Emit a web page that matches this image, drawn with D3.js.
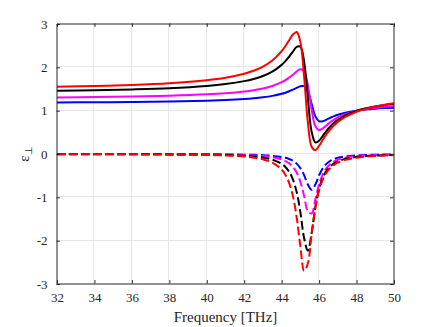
<!DOCTYPE html>
<html>
<head>
<meta charset="utf-8">
<script src="https://cdn.jsdelivr.net/npm/d3@7"></script>
<style>
  body { margin: 0; background: #fff; }
  text { font-family: "Liberation Serif", "Times New Roman", serif; fill: #262626; }
</style>
</head>
<body>
<div id="chart"></div>
<script>
// frequency samples [THz]
var freq = [32, 34, 36, 38, 40, 41, 42, 42.5, 43, 43.5, 44, 44.2, 44.4, 44.6, 44.8,
  45, 45.2, 45.4, 45.6, 45.8, 46, 46.2, 46.4, 46.6, 46.8, 47, 47.4, 48, 48.5, 49, 49.5, 50];

// real parts (solid)
var redRe = [1.551, 1.569, 1.594, 1.634, 1.703, 1.760, 1.852, 1.921, 2.016, 2.157, 2.374, 2.492, 2.626, 2.759, 2.815,
  2.582, 1.780, 0.728, 0.169, 0.089, 0.191, 0.329, 0.458, 0.568, 0.660, 0.737, 0.855, 0.976, 1.046, 1.098, 1.138, 1.170];
var blackRe = [1.458, 1.471, 1.491, 1.520, 1.572, 1.615, 1.682, 1.732, 1.801, 1.901, 2.057, 2.143, 2.246, 2.364, 2.472,
  2.476, 2.133, 1.284, 0.515, 0.267, 0.306, 0.420, 0.536, 0.636, 0.719, 0.787, 0.891, 0.995, 1.054, 1.097, 1.131, 1.157];
var magRe = [1.305, 1.313, 1.325, 1.344, 1.376, 1.402, 1.442, 1.472, 1.512, 1.569, 1.657, 1.704, 1.762, 1.830, 1.903,
  1.957, 1.909, 1.590, 1.024, 0.638, 0.550, 0.593, 0.665, 0.735, 0.795, 0.845, 0.920, 0.994, 1.036, 1.066, 1.089, 1.107];
var blueRe = [1.189, 1.194, 1.202, 1.212, 1.231, 1.246, 1.269, 1.286, 1.309, 1.341, 1.389, 1.415, 1.447, 1.484, 1.526,
  1.563, 1.565, 1.451, 1.160, 0.869, 0.755, 0.757, 0.794, 0.836, 0.873, 0.905, 0.953, 1.000, 1.026, 1.045, 1.059, 1.070];

// imaginary parts (dashed)
var redIm = [-0.004, -0.005, -0.008, -0.012, -0.024, -0.036, -0.060, -0.084, -0.123, -0.197, -0.359, -0.482, -0.670, -0.972, -1.454,
  -2.134, -2.694, -2.528, -1.846, -1.235, -0.834, -0.584, -0.426, -0.323, -0.251, -0.201, -0.136, -0.085, -0.061, -0.046, -0.036, -0.029];
var blackIm = [-0.003, -0.004, -0.006, -0.009, -0.017, -0.025, -0.042, -0.057, -0.082, -0.129, -0.228, -0.301, -0.411, -0.587, -0.875,
  -1.341, -1.945, -2.233, -1.828, -1.232, -0.805, -0.544, -0.385, -0.284, -0.217, -0.170, -0.113, -0.068, -0.049, -0.036, -0.028, -0.022];
var magIm = [-0.002, -0.002, -0.004, -0.006, -0.010, -0.015, -0.025, -0.034, -0.048, -0.074, -0.126, -0.162, -0.215, -0.297, -0.428,
  -0.642, -0.970, -1.326, -1.372, -1.047, -0.698, -0.463, -0.318, -0.229, -0.171, -0.132, -0.085, -0.050, -0.035, -0.026, -0.020, -0.016];
var blueIm = [-0.001, -0.001, -0.002, -0.003, -0.006, -0.009, -0.015, -0.020, -0.028, -0.042, -0.069, -0.088, -0.116, -0.157, -0.222,
  -0.326, -0.491, -0.706, -0.825, -0.706, -0.491, -0.326, -0.222, -0.157, -0.116, -0.088, -0.056, -0.032, -0.022, -0.016, -0.013, -0.010];

var xTicks = [32, 34, 36, 38, 40, 42, 44, 46, 48, 50];
var yTicks = [-3, -2, -1, 0, 1, 2, 3];

var svgWidth = 436;
var svgHeight = 327;
var margin = {top: 24, right: 42, bottom: 43, left: 57};
var width = svgWidth - margin.left - margin.right;
var height = svgHeight - margin.top - margin.bottom;

var svg = d3.select("#chart")
  .append("svg")
  .attr("width", svgWidth)
  .attr("height", svgHeight);

var chartGroup = svg.append("g")
  .attr("transform", `translate(${margin.left}, ${margin.top})`);

var xScale = d3.scaleLinear().domain([32, 50]).range([0, width]);
var yScale = d3.scaleLinear().domain([-3, 3]).range([height, 0]);

// grid
chartGroup.append("g")
  .selectAll("line")
  .data(xTicks.slice(1, -1))
  .enter()
  .append("line")
  .attr("x1", d => Math.round(xScale(d)) - 0.5)
  .attr("x2", d => Math.round(xScale(d)) - 0.5)
  .attr("y1", 0)
  .attr("y2", height)
  .attr("stroke", "#e6e6e6");

chartGroup.append("g")
  .selectAll("line")
  .data(yTicks.slice(1, -1))
  .enter()
  .append("line")
  .attr("y1", d => Math.round(yScale(d)) - 0.5)
  .attr("y2", d => Math.round(yScale(d)) - 0.5)
  .attr("x1", 0)
  .attr("x2", width)
  .attr("stroke", "#e6e6e6");

// curves
chartGroup.append("clipPath")
  .attr("id", "clip")
  .append("rect")
  .attr("width", width)
  .attr("height", height);

var line = d3.line()
  .x((d, i) => xScale(freq[i]))
  .y(d => yScale(d))
  .curve(d3.curveCatmullRom.alpha(0.5));

var series = [
  {vals: blueRe, color: "#0000ff", dash: null},
  {vals: magRe, color: "#ff00ff", dash: null},
  {vals: blackRe, color: "#000000", dash: null},
  {vals: redRe, color: "#ff0000", dash: null},
  {vals: blueIm, color: "#0000ff", dash: "8.5,3.5"},
  {vals: magIm, color: "#ff00ff", dash: "8.5,3.5"},
  {vals: blackIm, color: "#000000", dash: "8.5,3.5"},
  {vals: redIm, color: "#ff0000", dash: "8.5,3.5"}
];

chartGroup.append("g")
  .attr("clip-path", "url(#clip)")
  .selectAll("path")
  .data(series)
  .enter()
  .append("path")
  .attr("d", d => line(d.vals))
  .attr("fill", "none")
  .attr("stroke", d => d.color)
  .attr("stroke-width", 2)
  .attr("stroke-dasharray", d => d.dash);

// axes, ticks inside on all four sides
var fmt = d => String(d);
var bottomAxis = d3.axisBottom(xScale).tickValues(xTicks).tickSize(-3.4).tickPadding(9).tickSizeOuter(0).tickFormat(fmt);
var topAxis = d3.axisTop(xScale).tickValues(xTicks).tickSize(-3.4).tickFormat("").tickSizeOuter(0);
var leftAxis = d3.axisLeft(yScale).tickValues(yTicks).tickSize(-3.4).tickPadding(9).tickSizeOuter(0).tickFormat(fmt);
var rightAxis = d3.axisRight(yScale).tickValues(yTicks).tickSize(-3.4).tickFormat("").tickSizeOuter(0);

var axes = [
  chartGroup.append("g").attr("transform", `translate(0, ${height - 0.5})`).call(bottomAxis),
  chartGroup.append("g").attr("transform", "translate(0, -0.5)").call(topAxis),
  chartGroup.append("g").attr("transform", "translate(-0.5, 0)").call(leftAxis),
  chartGroup.append("g").attr("transform", `translate(${width - 0.5}, 0)`).call(rightAxis)
];

axes.forEach(function(a) {
  a.attr("font-family", "Liberation Serif").attr("font-size", 13);
  a.select(".domain").attr("stroke", "#262626");
  a.selectAll(".tick line").attr("stroke", "#262626");
  a.selectAll("text").attr("fill", "#262626");
});

// axis labels
chartGroup.append("text")
  .attr("x", width / 2)
  .attr("y", height + 38)
  .attr("text-anchor", "middle")
  .style("font-size", "15px")
  .text("Frequency [THz]");

var yLabel = chartGroup.append("text")
  .attr("transform", `translate(${-28}, ${height / 2}) rotate(-90)`)
  .attr("text-anchor", "middle")
  .style("font-size", "15px");
yLabel.append("tspan").text("ε");
yLabel.append("tspan").attr("dy", 3).style("font-size", "10px").text("⊥");
</script>
</body>
</html>
